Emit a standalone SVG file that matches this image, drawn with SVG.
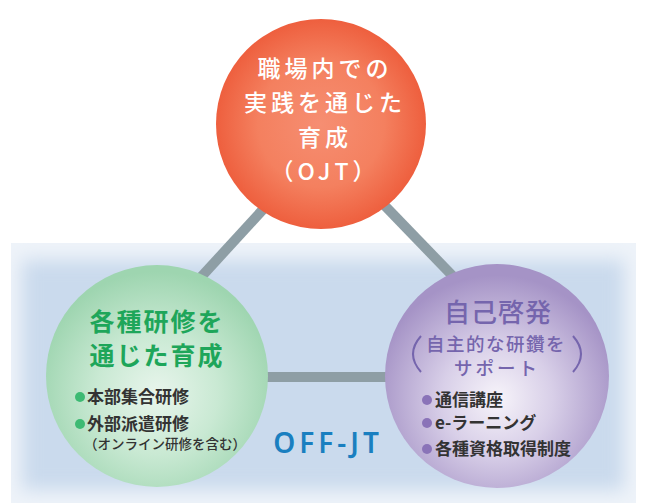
<svg xmlns="http://www.w3.org/2000/svg" width="646" height="503" viewBox="0 0 646 503">
<defs>
<radialGradient id="gRed" cx="0.5" cy="0.5" r="0.5">
<stop offset="0" stop-color="#f68e72"/>
<stop offset="0.6" stop-color="#f4805f"/>
<stop offset="1" stop-color="#ee5f3e"/>
</radialGradient>
<radialGradient id="gGreen" cx="0.5" cy="0.58" r="0.55">
<stop offset="0" stop-color="#e8f5ec"/>
<stop offset="0.5" stop-color="#c9e9d3"/>
<stop offset="1" stop-color="#9ed5b0"/>
</radialGradient>
<radialGradient id="gPurple" cx="0.5" cy="0.6" r="0.55">
<stop offset="0" stop-color="#f7f4fa"/>
<stop offset="0.45" stop-color="#d8cfe8"/>
<stop offset="1" stop-color="#a593c6"/>
</radialGradient>
<filter id="soft" x="-10%" y="-10%" width="120%" height="120%">
<feGaussianBlur stdDeviation="9"/>
</filter>
<clipPath id="panelClip"><rect x="11" y="243" width="625" height="260"/></clipPath>
<style>
.ojt{font-family:"Noto Sans CJK JP","Noto Sans",sans-serif;font-size:23px;font-weight:500;fill:#ffffff;letter-spacing:4px;text-anchor:middle}
.gt{font-family:"Noto Sans CJK JP","Noto Sans",sans-serif;font-size:25px;font-weight:700;fill:#1ea65a;letter-spacing:2px;text-anchor:middle}
.pt{font-family:"Noto Sans CJK JP","Noto Sans",sans-serif;font-weight:500;fill:#7565ad;text-anchor:middle}
.li{font-family:"Noto Sans CJK JP","Noto Sans",sans-serif;font-size:17px;font-weight:700;fill:#333333}
.sm{font-family:"Noto Sans CJK JP","Noto Sans",sans-serif;font-size:13.5px;font-weight:500;fill:#333333}
.conn{stroke:#8e9ea5;stroke-width:10;fill:none}
</style>
</defs>
<g id="panel">
<rect x="11" y="243" width="625" height="260" fill="#eef3f9"/>
<g clip-path="url(#panelClip)">
<rect x="22" y="260" width="602" height="230" fill="#cadaed" filter="url(#soft)"/>
</g>
</g>
<g id="connectors">
<line class="conn" x1="180" y1="300" x2="290" y2="180"/>
<line class="conn" x1="360" y1="180" x2="472" y2="296"/>
<line class="conn" x1="240" y1="377" x2="410" y2="377"/>
</g>
<g id="ojt">
<circle cx="321" cy="124" r="105" fill="url(#gRed)"/>
<text class="ojt" x="325" y="77">職場内での</text>
<text class="ojt" x="325" y="111">実践を通じた</text>
<text class="ojt" x="325" y="146">育成</text>
<text class="ojt" x="325" y="180">（OJT）</text>
</g>
<g id="training">
<circle cx="157" cy="376" r="111" fill="url(#gGreen)"/>
<text class="gt" x="157" y="331">各種研修を</text>
<text class="gt" x="157" y="365">通じた育成</text>
<circle cx="80" cy="397" r="5" fill="#3dba73"/>
<text class="li" x="87" y="403">本部集合研修</text>
<circle cx="80" cy="424" r="5" fill="#3dba73"/>
<text class="li" x="87" y="430">外部派遣研修</text>
<text class="sm" x="84" y="449">（オンライン研修を含む）</text>
</g>
<g id="selfdev">
<circle cx="497" cy="376" r="112" fill="url(#gPurple)"/>
<text class="pt" x="498" y="322" font-size="26" letter-spacing="1">自己啓発</text>
<text class="pt" x="496" y="351" font-size="18.5" letter-spacing="1.5">自主的な研鑽を</text>
<text class="pt" x="497" y="375" font-size="18.5" letter-spacing="3">サポート</text>
<path d="M421 336 Q405 354 421 372" fill="none" stroke="#7565ad" stroke-width="2"/>
<path d="M573 336 Q589 354 573 372" fill="none" stroke="#7565ad" stroke-width="2"/>
<circle cx="427" cy="400" r="5" fill="#8a73b8"/>
<text class="li" x="435" y="406">通信講座</text>
<circle cx="427" cy="423" r="5" fill="#8a73b8"/>
<text class="li" x="435" y="429">e-ラーニング</text>
<circle cx="427" cy="449" r="5" fill="#8a73b8"/>
<text class="li" x="435" y="455">各種資格取得制度</text>
</g>
<g id="offjt">
<text x="328" y="453" font-family="'Noto Sans','Noto Sans CJK JP',sans-serif" font-size="28" font-weight="600" fill="#1a7fc0" letter-spacing="4" text-anchor="middle">OFF-JT</text>
</g>
</svg>
